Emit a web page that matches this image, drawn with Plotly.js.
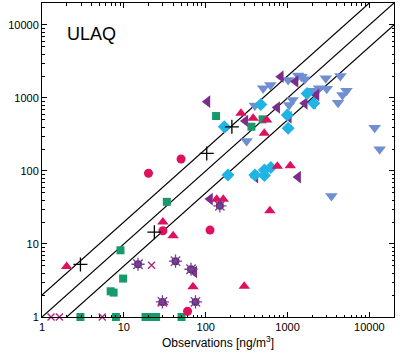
<!DOCTYPE html>
<html><head><meta charset="utf-8">
<script src="https://cdn.plot.ly/plotly-3.0.1.min.js"></script>
<style>html,body{margin:0;padding:0;background:#fff}#chart{width:400px;height:355px}</style>
</head><body><div id="chart"></div>
<script>
// Observations (x) vs model (y), ng/m3
const circleX = [20, 50, 30, 113, 60];
const circleY = [93, 146, 15.2, 15.5, 1.2];

const triUpX = [2, 30, 40, 70, 30, 136, 164, 296, 608, 270, 380, 555, 520, 750, 1080];
const triUpY = [4.9, 20, 13, 2.6, 1.57, 41, 41, 2.64, 28.5, 617, 527, 500, 328, 116, 118];

const squareX = [134, 362, 496, 33.5, 9.1, 9.8, 6.9, 7.5, 2.95, 8, 18.4, 20.4, 24.8, 50.7];
const squareY = [566, 404, 510, 37.8, 8.2, 3.36, 2.25, 2.16, 1, 1, 1, 1, 1, 1];

const diamondX = [169, 472, 995, 1017, 1734, 2094, 187, 399, 521, 521, 626];
const diamondY = [404, 815, 585, 384, 1153, 846, 88, 88, 103, 86.5, 112];

const triLeftX = [105, 306, 747, 828, 1253, 1037, 1625, 2052, 2258, 1347, 405, 113, 72.6];
const triLeftY = [890, 484, 741, 1960, 1684, 544, 846, 862, 1100, 82.5, 82.5, 41.2, 4.14];

const triDownX = [504, 617, 1017, 1347, 1482, 1625, 2933, 4428, 399, 316, 1151, 1046, 2018, 2428, 3015, 4140, 4688, 5250, 11610, 13360, 3440];
const triDownY = [1359, 1507, 1767, 2036, 1960, 1805, 1862, 2004, 789, 257, 939, 802, 1259, 1359, 1343, 862, 1100, 1259, 391, 198, 45.3];

const crossX = [2.95, 23.6, 103, 209];
const crossY = [5.25, 14.5, 174, 403];

const xMarkX = [1.29, 1.63, 5.44, 21.8];
const xMarkY = [1, 1, 1, 5.12];

const starX = [14.9, 42.8, 66.2, 29.6, 75.1, 149];
const starY = [5.28, 5.81, 4.51, 1.61, 1.61, 33.3];

// reference lines: model = ratio * observation
const lineRatios = [2, 1, 0.5];
const lineEnds = [1, 20000];

const xTicks = [1, 10, 100, 1000, 10000];
const xTickText = ['1', '10', '100', '1000', '10000'];
const yTicks = [1, 10, 100, 1000, 10000];
const yTickText = ['1', '10', '100', '1000', '10000'];

const traces = [];
lineRatios.forEach(r => {
  traces.push({x: lineEnds, y: lineEnds.map(v => v * r), mode: 'lines',
    line: {color: '#000', width: 1.2}, hoverinfo: 'skip', cliponaxis: true});
});
function pts(x, y, marker) {
  traces.push({x: x, y: y, mode: 'markers', marker: marker, cliponaxis: false});
}
pts(triDownX, triDownY, {symbol: 'triangle-down', size: 11, color: '#6f8fd2'});
pts(triLeftX, triLeftY, {symbol: 'triangle-left', size: 11, color: '#7b2d8b'});
pts(diamondX, diamondY, {symbol: 'diamond', size: 10, color: '#1fb4e6'});
pts(squareX, squareY, {symbol: 'square', size: 8, color: '#17996b'});
pts(triUpX, triUpY, {symbol: 'triangle-up', size: 10, color: '#de1060'});
pts(circleX, circleY, {symbol: 'circle', size: 9, color: '#de1060'});
pts(starX, starY, {symbol: 'circle', size: 8, color: '#4e2a63'});
pts(starX, starY, {symbol: 'asterisk-open', size: 11, color: '#7a3f96', line: {color: '#7a3f96', width: 1.3}});
pts(xMarkX, xMarkY, {symbol: 'x-thin-open', size: 7, color: '#b01f7e', line: {color: '#b01f7e', width: 1.3}});
pts(crossX, crossY, {symbol: 'cross-thin-open', size: 10, color: '#000', line: {color: '#000', width: 1.3}});

const fontFam = 'Liberation Sans, Arial, sans-serif';
const axisBase = {
  type: 'log', range: [0, Math.log10(20000)], showgrid: false, zeroline: false,
  showline: true, linecolor: '#000', linewidth: 1, mirror: 'ticks',
  ticks: 'inside', ticklen: 5, tickwidth: 1, tickcolor: '#000',
  minor: {ticks: 'inside', ticklen: 2.5, tickwidth: 1, tickcolor: '#000', dtick: 'D1', showgrid: false},
  tickfont: {family: fontFam, size: 11, color: '#000'}
};

const layout = {
  width: 400, height: 355,
  margin: {l: 42, r: 6, t: 3, b: 38},
  paper_bgcolor: '#fff', plot_bgcolor: '#fff',
  showlegend: false,
  xaxis: Object.assign({}, axisBase, {tickvals: xTicks, ticktext: xTickText,
    title: {text: 'Observations [ng/m<sup>3</sup>]', standoff: 6,
      font: {family: fontFam, size: 12, color: '#000'}}}),
  yaxis: Object.assign({}, axisBase, {tickvals: yTicks, ticktext: yTickText}),
  annotations: [{text: 'ULAQ', xref: 'paper', yref: 'paper', x: 0.065, y: 0.9,
    xanchor: 'left', yanchor: 'middle', showarrow: false,
    font: {family: fontFam, size: 18, color: '#000'}}]
};

Plotly.newPlot('chart', traces, layout, {displayModeBar: false, staticPlot: true});
</script>
</body></html>
